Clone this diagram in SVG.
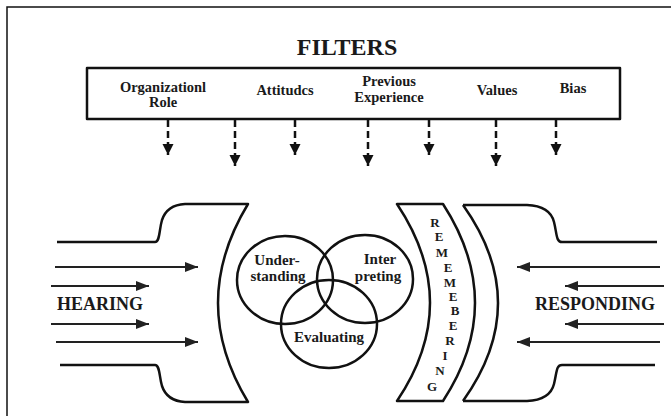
<svg xmlns="http://www.w3.org/2000/svg" width="671" height="416" viewBox="0 0 671 416">
<style>
.t{font-family:"Liberation Serif","Times New Roman",serif;font-weight:bold;fill:#1a1a1a;text-anchor:middle}
.f{font-size:14.5px}
.s{fill:none;stroke:#111;stroke-width:2.5;stroke-linejoin:round}
.d{stroke:#111;stroke-width:2.5;stroke-dasharray:7,4;fill:none}
.h{stroke:#222;stroke-width:2;fill:none}
.rl{font-size:13px}
</style>
<defs>
<marker id="ad" markerUnits="userSpaceOnUse" markerWidth="12" markerHeight="12" refX="11" refY="5.5" orient="auto"><path d="M0,0 L11,5.5 L0,11 z" fill="#111"/></marker>
<marker id="ah" markerUnits="userSpaceOnUse" markerWidth="14" markerHeight="12" refX="13" refY="5" orient="auto"><path d="M0,0 L13,5 L0,10 z" fill="#222"/></marker>
</defs>
<rect width="671" height="416" fill="#fff"/>
<path d="M7,416 L7,7 L671,7" fill="none" stroke="#111" stroke-width="1.5"/>
<text class="t" x="347" y="55" font-size="24">FILTERS</text>
<g id="filters">
<rect x="87" y="68" width="533" height="51" class="s"/>
<text class="t f" x="163" y="92">Organizationl</text>
<text class="t f" x="163" y="107">Role</text>
<text class="t f" x="285" y="95">Attitudcs</text>
<text class="t f" x="389" y="86">Previous</text>
<text class="t f" x="389" y="102">Experience</text>
<text class="t f" x="497" y="95">Values</text>
<text class="t f" x="573" y="93">Bias</text>
</g>
<g id="filter-arrows">
<line class="d" x1="168" y1="120" x2="168" y2="155" marker-end="url(#ad)"/>
<line class="d" x1="235" y1="120" x2="235" y2="166" marker-end="url(#ad)"/>
<line class="d" x1="295" y1="120" x2="295" y2="155" marker-end="url(#ad)"/>
<line class="d" x1="368" y1="120" x2="368" y2="166" marker-end="url(#ad)"/>
<line class="d" x1="429" y1="120" x2="429" y2="155" marker-end="url(#ad)"/>
<line class="d" x1="496" y1="120" x2="496" y2="166" marker-end="url(#ad)"/>
<line class="d" x1="556" y1="120" x2="556" y2="155" marker-end="url(#ad)"/>
</g>
<g id="hearing">
<path class="s" d="M57,242 L155,242 C160,242 159,230 162,220 Q167,205 185,204 L248,204 Q188,303 248,402 L185,402 Q167,401 162,386 C159,376 160,365 155,365 L60,365"/>
<text class="t" x="100" y="310" font-size="18">HEARING</text>
</g>
<g id="hearing-arrows">
<line class="h" x1="55" y1="267" x2="198" y2="267" marker-end="url(#ah)"/>
<line class="h" x1="51" y1="286" x2="149" y2="286" marker-end="url(#ah)"/>
<line class="h" x1="51" y1="324" x2="149" y2="324" marker-end="url(#ah)"/>
<line class="h" x1="56" y1="342" x2="198" y2="342" marker-end="url(#ah)"/>
</g>
<g id="venn">
<ellipse class="s" cx="285" cy="280" rx="48" ry="44"/>
<ellipse class="s" cx="365" cy="279" rx="48" ry="44"/>
<ellipse class="s" cx="329" cy="324" rx="48" ry="44"/>
<text class="t" x="277" y="265" font-size="15">Under-</text>
<text class="t" x="278" y="281" font-size="15">standing</text>
<text class="t" x="380" y="264" font-size="15">Inter</text>
<text class="t" x="378" y="281" font-size="15">preting</text>
<text class="t" x="329" y="342" font-size="15">Evaluating</text>
</g>
<g id="remembering">
<path class="s" d="M397,204 L443,204 Q507,303 443,401 L397,401 Q463,303 397,204 Z"/>
<text class="t rl" x="435" y="227">R</text>
<text class="t rl" x="439" y="241">E</text>
<text class="t rl" x="442" y="257">M</text>
<text class="t rl" x="448" y="272">E</text>
<text class="t rl" x="450" y="287">M</text>
<text class="t rl" x="453" y="301">E</text>
<text class="t rl" x="455" y="315">B</text>
<text class="t rl" x="453" y="330">E</text>
<text class="t rl" x="450" y="345">R</text>
<text class="t rl" x="445" y="360">I</text>
<text class="t rl" x="440" y="375">N</text>
<text class="t rl" x="432" y="391">G</text>
</g>
<g id="responding">
<path class="s" d="M463,205 L527,205 Q550,206 554,222 C557,234 556,242 562,242 L657,242 M463,401 L527,401 Q550,400 554,384 C557,372 556,365 562,365 L655,365 M463,205 Q533,303 463,401"/>
<text class="t" x="595" y="310" font-size="18">RESPONDING</text>
</g>
<g id="responding-arrows">
<line class="h" x1="660" y1="267" x2="517" y2="267" marker-end="url(#ah)"/>
<line class="h" x1="664" y1="286" x2="565" y2="286" marker-end="url(#ah)"/>
<line class="h" x1="664" y1="324" x2="565" y2="324" marker-end="url(#ah)"/>
<line class="h" x1="660" y1="342" x2="517" y2="342" marker-end="url(#ah)"/>
</g>
</svg>
